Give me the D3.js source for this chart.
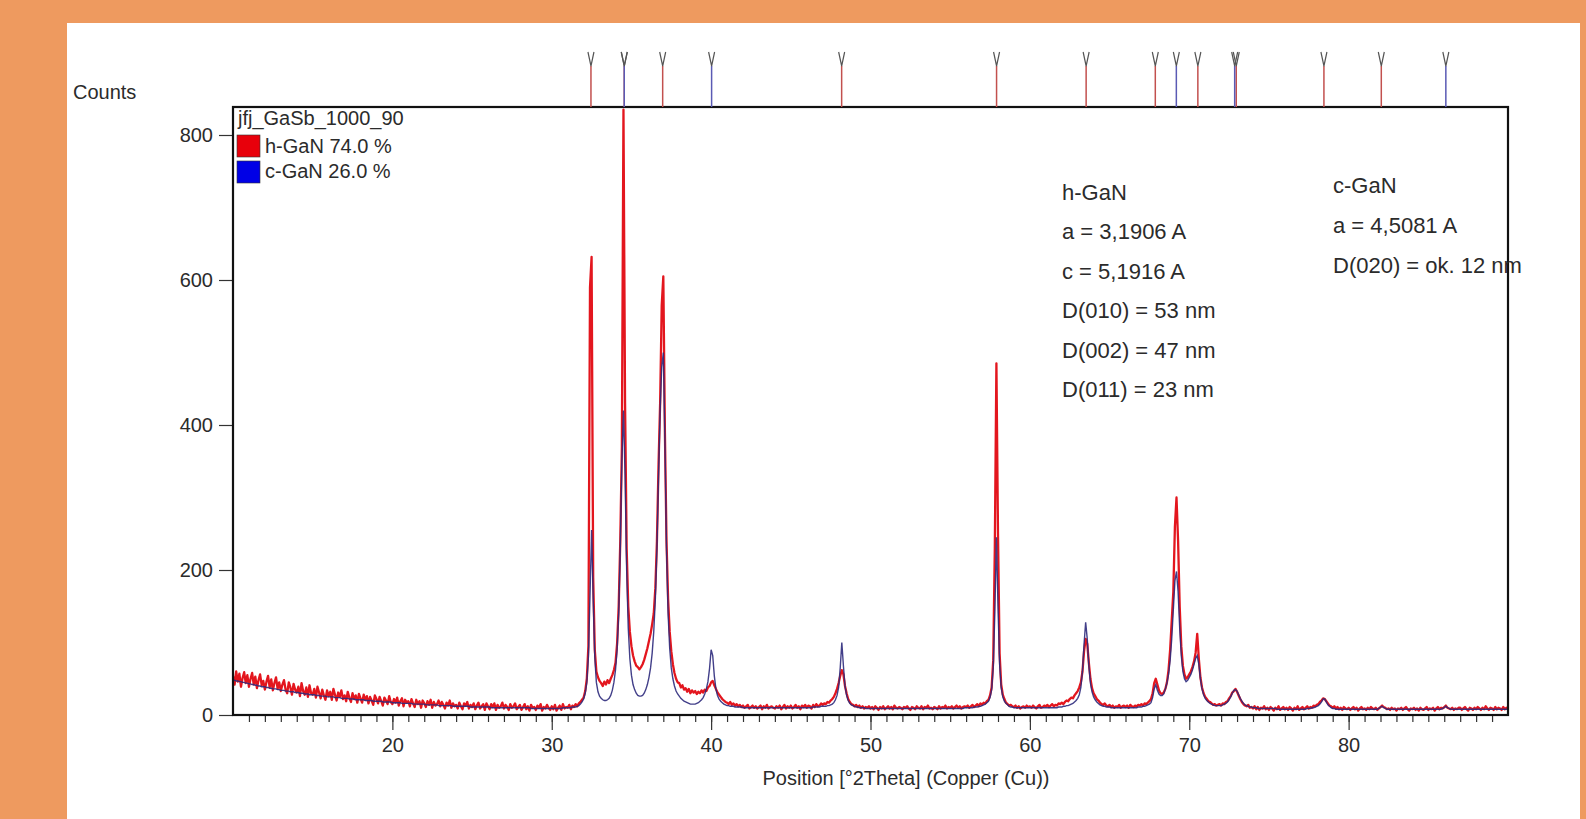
<!DOCTYPE html>
<html>
<head>
<meta charset="utf-8">
<script src="https://cdn.jsdelivr.net/npm/d3@7"></script>
<style>
  body { margin: 0; background: #ee9a5f; }
  text { font-family: "Liberation Sans", Arial, sans-serif; fill: #2b2b2b; }
</style>
</head>
<body>
<script>
// scan starts at 10 °2Theta, one row per degree, 0.1° steps
const thetaStart = 10;
const thetaStep = 0.1;

// measured pattern (red)
const observedRows = [
  [54,42,60,46,57,39,51,59,44,55],
  [39,50,58,42,53,37,48,56,41,47],
  [35,46,54,38,49,34,44,52,36,45],
  [33,42,48,35,30,45,38,28,43,35],
  [31,39,26,44,33,28,38,25,41,30],
  [28,36,24,39,31,23,35,27,21,34],
  [26,32,21,36,28,20,31,25,34,22],
  [27,19,32,24,18,30,22,27,17,29],
  [23,17,28,21,26,16,25,20,14,27],
  [22,16,25,19,13,24,20,15,26,18],
  [15,22,17,24,13,19,23,12,21,17], // 20
  [19,12,22,16,11,21,15,19,10,20],
  [16,11,19,14,21,10,18,13,15,20],
  [12,18,14,9,17,13,20,10,16,12],
  [14,9,17,12,8,16,13,18,9,14],
  [11,16,8,13,17,9,12,15,7,16],
  [12,8,15,11,16,7,14,10,12,17],
  [9,14,11,7,15,10,12,16,8,11],
  [14,7,11,15,8,12,6,14,10,11],
  [7,13,10,15,6,11,9,14,10,7],
  [12,8,14,6,10,13,7,15,9,11], // 30
  [10,14,8,13,11,15,12,16,18,21],
  [24,33,50,95,590,632,190,90,60,52],
  [47,44,40,46,42,48,44,50,55,62],
  [72,98,150,240,370,835,430,230,150,115],
  [95,82,74,68,66,63,66,70,76,84],
  [92,102,112,125,140,175,240,345,430,565],
  [605,390,240,160,115,88,70,58,50,45],
  [44,38,41,35,37,32,36,30,34,31],
  [33,29,32,30,34,31,35,33,38,40],
  [45,47,41,36,31,28,25,22,20,18], // 40
  [17,15,18,14,16,13,15,12,14,11],
  [13,10,12,14,9,11,13,10,12,9],
  [11,13,8,12,10,14,9,11,12,10],
  [9,12,10,13,8,11,14,9,12,10],
  [13,9,11,14,10,12,8,13,11,14],
  [10,13,12,9,14,11,15,12,13,16],
  [14,16,15,18,17,20,22,25,30,36],
  [44,54,62,56,40,30,22,18,15,14],
  [12,14,11,13,10,12,9,11,10,12],
  [9,11,8,12,10,7,11,9,12,8], // 50
  [10,12,9,11,8,13,10,9,11,10],
  [8,11,10,12,9,7,11,10,8,12],
  [10,9,12,8,11,10,13,9,10,8],
  [11,10,8,12,9,11,10,13,9,11],
  [10,12,9,11,13,10,12,9,11,12],
  [11,13,10,12,14,11,13,15,12,16],
  [14,17,16,19,21,27,38,75,230,485],
  [250,85,42,28,22,17,15,13,14,12],
  [11,13,10,12,9,11,12,10,13,11],
  [12,10,13,11,9,12,14,10,11,13], // 60
  [12,14,11,13,15,12,14,13,16,15],
  [17,15,18,20,19,22,24,23,27,30],
  [33,38,45,60,88,105,98,72,50,37],
  [30,26,22,20,17,15,14,16,13,12],
  [14,11,13,10,12,11,14,10,12,13],
  [11,13,10,14,12,11,13,12,14,13],
  [15,13,16,15,17,19,22,30,44,50],
  [42,34,30,29,31,36,45,62,90,130],
  [170,260,300,240,150,95,68,56,50,52],
  [56,60,66,74,86,112,78,52,38,30], // 70
  [25,22,19,18,16,14,15,13,14,15],
  [13,16,15,18,19,23,26,31,33,36],
  [32,27,22,18,15,13,12,14,10,11],
  [9,12,8,11,7,10,9,12,8,10],
  [7,11,9,6,10,8,12,7,9,11],
  [8,10,7,11,9,6,10,8,12,7],
  [9,11,8,10,12,9,11,10,13,12],
  [14,15,18,20,23,22,19,16,13,12],
  [10,12,9,11,8,10,7,11,9,8],
  [10,7,9,11,8,10,6,9,11,8], // 80
  [9,7,10,8,11,9,8,10,7,9],
  [11,13,11,10,8,9,7,10,8,9],
  [6,9,8,10,7,9,11,8,6,9],
  [8,10,7,9,6,10,8,7,9,11],
  [7,9,8,10,6,9,11,8,10,9],
  [11,13,10,9,8,10,7,9,8,10],
  [10,7,9,11,8,6,10,9,7,10],
  [8,11,9,7,10,8,12,9,7,10],
  [9,7,11,8,10,9,7,11,8,10],
  [9]
];

// calculated profile (dark blue)
const calculatedRows = [
  [48,48,47,47,46,46,45,45,44,44],
  [43,43,42,42,41,41,40,40,39,39],
  [39,38,38,37,37,36,36,36,35,35],
  [34,34,34,33,33,33,32,32,32,31],
  [31,31,30,30,30,29,29,29,28,28],
  [28,28,27,27,27,26,26,26,26,25],
  [25,25,25,25,24,24,24,24,23,23],
  [23,23,23,22,22,22,22,21,21,21],
  [21,21,21,20,20,20,20,20,19,19],
  [19,19,19,19,18,18,18,18,18,18],
  [17,17,17,17,17,17,16,16,16,16], // 20
  [16,16,16,15,15,15,15,15,15,15],
  [15,14,14,14,14,14,14,14,14,13],
  [13,13,13,13,13,13,13,13,12,12],
  [12,12,12,12,12,12,12,12,12,11],
  [11,11,11,11,11,11,11,11,11,11],
  [11,11,10,10,10,10,10,10,10,10],
  [10,10,10,10,10,10,10,10,10,10],
  [10,10,10,10,10,10,10,9,9,9],
  [9,9,9,9,9,9,9,9,9,9],
  [9,9,9,9,9,9,9,10,10,10], // 30
  [10,10,10,11,11,11,12,13,15,18],
  [22,30,45,80,165,255,160,80,45,32],
  [26,23,21,20,20,21,23,27,34,45],
  [62,90,140,230,350,420,330,200,120,78],
  [55,42,35,30,27,26,26,27,30,35],
  [42,52,65,85,115,160,230,330,420,480],
  [500,380,230,140,92,65,50,40,33,29],
  [26,23,21,19,18,17,16,15,15,15],
  [15,16,17,19,21,24,29,36,46,64],
  [90,82,54,36,27,22,19,17,15,14], // 40
  [13,13,12,12,12,11,11,11,11,11],
  [10,10,10,10,10,10,10,10,10,10],
  [10,10,10,10,10,10,10,10,10,10],
  [10,10,10,10,10,10,10,10,10,10],
  [10,10,10,10,10,10,10,10,10,10],
  [10,10,10,10,11,11,11,11,11,12],
  [12,12,12,13,13,14,15,17,21,27],
  [38,65,100,68,40,27,20,16,14,13],
  [12,11,11,10,10,10,10,9,9,9],
  [9,9,9,9,9,9,9,9,9,9], // 50
  [9,9,9,9,9,9,9,9,9,9],
  [9,9,9,9,9,9,9,9,9,9],
  [9,9,9,9,9,9,9,9,9,9],
  [9,9,9,9,9,9,9,9,9,9],
  [9,9,9,9,9,9,9,9,9,10],
  [10,10,10,10,10,11,11,11,12,12],
  [13,14,15,17,19,24,35,65,140,245],
  [150,70,38,25,19,16,14,12,11,11],
  [10,10,10,10,10,10,10,10,10,10],
  [10,10,10,10,10,10,10,10,10,10], // 60
  [10,10,10,10,10,10,10,10,11,11],
  [11,12,12,13,13,14,15,16,18,20],
  [23,28,38,60,98,128,105,68,44,32],
  [25,21,18,16,14,13,12,12,11,11],
  [11,10,10,10,10,10,10,10,10,10],
  [10,10,10,10,10,10,10,10,11,11],
  [11,12,12,13,14,15,17,24,36,42],
  [34,29,27,27,29,36,44,56,75,105],
  [145,185,198,170,120,82,60,50,46,48],
  [52,56,62,70,78,82,70,50,36,28], // 70
  [23,20,18,16,15,14,13,13,13,13],
  [13,14,15,16,18,21,25,30,34,35],
  [33,28,23,19,16,14,13,12,11,11],
  [10,10,10,9,9,9,9,9,9,9],
  [9,9,9,9,9,8,8,8,8,8],
  [8,8,8,8,8,8,8,8,8,8],
  [8,8,8,8,9,9,9,10,10,11],
  [12,13,15,18,22,22,18,14,12,10],
  [9,9,8,8,8,8,8,8,8,8],
  [8,8,8,8,8,8,8,8,8,8], // 80
  [8,8,8,8,8,8,8,8,8,9],
  [11,12,10,9,8,8,8,8,8,8],
  [8,8,8,8,8,8,8,8,8,8],
  [8,8,8,8,8,8,8,8,8,8],
  [8,8,8,8,8,8,8,8,8,9],
  [10,12,10,9,8,8,8,8,8,8],
  [8,8,8,8,8,8,8,8,8,8],
  [8,8,8,8,8,8,8,8,8,8],
  [8,8,8,8,8,8,8,8,8,8],
  [8]
];

// reference reflection positions (°2Theta)
const hGaNRefs = [32.46, 34.55, 36.96, 48.19, 57.91, 63.53, 67.87, 70.54, 72.95, 78.45, 82.05];
const cGaNRefs = [34.55, 40.03, 69.19, 72.85, 86.1];

const xTicks = [20, 30, 40, 50, 60, 70, 80];
const xMinorTicks = d3.range(11, 90);
const yTicks = [0, 200, 400, 600, 800];

const sampleName = 'jfj_GaSb_1000_90';
const phaseNames = ['h-GaN 74.0 %', 'c-GaN 26.0 %'];
const phaseColors = ['#e8000b', '#0000e6'];
const hGaNNotes = ['h-GaN', 'a = 3,1906 A', 'c = 5,1916 A', 'D(010) = 53 nm', 'D(002) = 47 nm', 'D(011) = 23 nm'];
const cGaNNotes = ['c-GaN', 'a = 4,5081 A', 'D(020) = ok. 12 nm'];

function toPoints(rows) {
  const pts = [];
  rows.forEach((row, i) => {
    row.forEach((v, j) => pts.push([thetaStart + i + j * thetaStep, v]));
  });
  return pts;
}
const observed = toPoints(observedRows);
const calculated = toPoints(calculatedRows);

const width = 1586, height = 819;
const svg = d3.select('body').append('svg')
  .attr('width', width)
  .attr('height', height);

svg.append('rect').attr('width', width).attr('height', height).attr('fill', '#ee9a5f');
svg.append('rect').attr('x', 67).attr('y', 23).attr('width', 1513).attr('height', 796).attr('fill', '#fff');

const x = d3.scaleLinear().domain([10, 90]).range([233, 1508]);
const y = d3.scaleLinear().domain([0, 800]).range([715, 135]);
const plotTop = 107;

svg.append('clipPath').attr('id', 'plot-clip')
  .append('rect')
  .attr('x', x(10)).attr('y', plotTop)
  .attr('width', x(90) - x(10)).attr('height', y(0) - plotTop);

const line = d3.line()
  .x(d => x(d[0]))
  .y(d => y(d[1]));

const plot = svg.append('g').attr('clip-path', 'url(#plot-clip)');
plot.append('path')
  .attr('d', line(observed))
  .attr('fill', 'none')
  .attr('stroke', '#e3161e')
  .attr('stroke-width', 2.3)
  .attr('stroke-linejoin', 'round');
plot.append('path')
  .attr('d', line(calculated))
  .attr('fill', 'none')
  .attr('stroke', '#2e2a7c')
  .attr('stroke-width', 1.4)
  .attr('stroke-opacity', 0.9);

// x axis: minor then major ticks
const xMinor = svg.append('g')
  .attr('transform', `translate(0,${y(0)})`)
  .call(d3.axisBottom(x).tickValues(xMinorTicks).tickSize(7).tickFormat(''));
const xMajor = svg.append('g')
  .attr('transform', `translate(0,${y(0)})`)
  .call(d3.axisBottom(x).tickValues(xTicks).tickSize(15).tickPadding(8).tickFormat(d3.format('d')));
const yAxis = svg.append('g')
  .attr('transform', `translate(${x(10)},0)`)
  .call(d3.axisLeft(y).tickValues(yTicks).tickSize(14).tickPadding(6));

[xMinor, xMajor, yAxis].forEach(g => {
  g.select('.domain').remove();
  g.selectAll('line').attr('stroke', '#333').attr('stroke-width', 1.2);
  g.selectAll('text').attr('font-size', 20).attr('fill', '#2b2b2b')
    .attr('font-family', '"Liberation Sans", Arial, sans-serif');
});

// frame
svg.append('rect')
  .attr('x', x(10)).attr('y', plotTop)
  .attr('width', x(90) - x(10)).attr('height', y(0) - plotTop)
  .attr('fill', 'none').attr('stroke', '#111').attr('stroke-width', 2.2);

// reflection markers above the frame
function drawRefs(list, color) {
  const g = svg.append('g');
  g.selectAll('line').data(list).join('line')
    .attr('x1', d => x(d)).attr('x2', d => x(d))
    .attr('y1', 66).attr('y2', plotTop)
    .attr('stroke', color).attr('stroke-width', 1.5);
  g.selectAll('path').data(list).join('path')
    .attr('d', d => `M${x(d) - 3},52L${x(d)},66L${x(d) + 3},52`)
    .attr('fill', 'none').attr('stroke', '#555').attr('stroke-width', 1.2);
}
drawRefs(hGaNRefs, '#c2504e');
drawRefs(cGaNRefs, '#5a5ab4');

// axis titles
svg.append('text').attr('x', 73).attr('y', 99).attr('font-size', 20).text('Counts');
svg.append('text').attr('x', 906).attr('y', 785).attr('font-size', 20)
  .attr('text-anchor', 'middle').text('Position [°2Theta] (Copper (Cu))');

// legend
svg.append('text').attr('x', 238).attr('y', 125).attr('font-size', 20).text(sampleName);
phaseNames.forEach((name, i) => {
  svg.append('rect')
    .attr('x', 237).attr('y', 135 + i * 26)
    .attr('width', 23).attr('height', 22)
    .attr('fill', phaseColors[i]).attr('stroke', '#333').attr('stroke-width', 0.6);
  svg.append('text')
    .attr('x', 265).attr('y', 153 + i * 25)
    .attr('font-size', 20).text(name);
});

// phase notes
hGaNNotes.forEach((t, i) => {
  svg.append('text').attr('x', 1062).attr('y', 200 + i * 39.4).attr('font-size', 22).text(t);
});
cGaNNotes.forEach((t, i) => {
  svg.append('text').attr('x', 1333).attr('y', 193 + i * 40).attr('font-size', 22).text(t);
});
</script>
</body>
</html>
